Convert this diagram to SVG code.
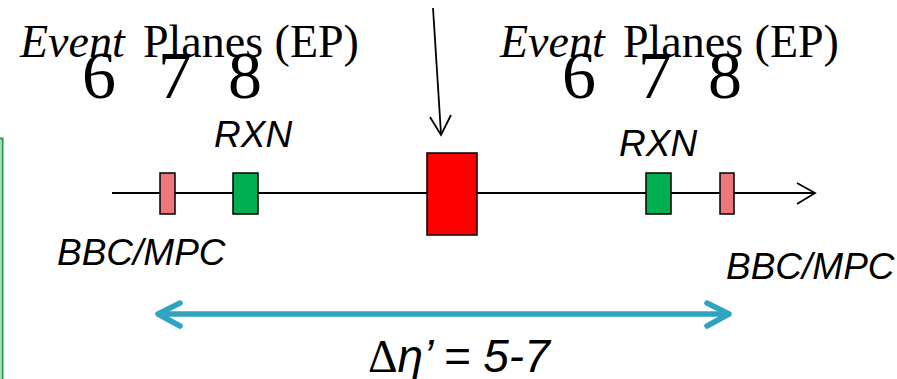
<svg xmlns="http://www.w3.org/2000/svg" width="897" height="379" viewBox="0 0 897 379">
<defs>
<style>
.ser{font-family:"Liberation Serif","Times New Roman",serif;fill:#000}
.ev{font-size:46px}
.dig{font-size:68px;text-anchor:middle}
.lab{font-family:"Liberation Sans",Arial,sans-serif;font-style:italic;font-size:37px;fill:#000}
.det{stroke:#000;stroke-width:1.5}
.ax{stroke:#000;stroke-width:1.8;fill:none}
.blue{stroke:#2fa4c1;stroke-width:5.5;fill:none;stroke-linecap:round;stroke-linejoin:round}
</style>
</defs>
<path d="M0 138.5 H2.5 V379" fill="none" stroke="#1d9a4e" stroke-width="2"/>
<line x1="0.8" y1="140" x2="0.8" y2="379" stroke="#a9dcbc" stroke-width="1.5"/>
<g id="title-left">
<text class="ser ev" y="57"><tspan x="20" font-style="italic">Event</tspan><tspan x="143">Planes (EP)</tspan></text>
<text class="ser dig" y="98"><tspan x="99">6</tspan><tspan x="175">7</tspan><tspan x="245">8</tspan></text>
</g>
<g id="title-right">
<text class="ser ev" y="57"><tspan x="500" font-style="italic">Event</tspan><tspan x="623">Planes (EP)</tspan></text>
<text class="ser dig" y="98"><tspan x="579">6</tspan><tspan x="655">7</tspan><tspan x="725">8</tspan></text>
</g>
<g id="connectors">
<line class="ax" x1="112" y1="193" x2="814" y2="193"/>
<polyline class="ax" points="797,183 815,193 797,204"/>
<line class="ax" x1="433" y1="8" x2="441" y2="134"/>
<polyline class="ax" points="430,117 441,135 451,115"/>
<line class="blue" x1="159" y1="314" x2="728" y2="314"/>
<polyline class="blue" points="180,303 158,314 180,326"/>
<polyline class="blue" points="707,303 729,314 707,326"/>
</g>
<g id="bbc-left"><rect class="det" x="160" y="173" width="15" height="41" fill="#ee777e"/></g>
<g id="rxn-left"><rect class="det" x="233" y="173" width="25" height="41" fill="#00b050"/></g>
<g id="vertex"><rect class="det" x="427" y="153" width="50" height="82" fill="#ff0000"/></g>
<g id="rxn-right"><rect class="det" x="646" y="173" width="25" height="41" fill="#00b050"/></g>
<g id="bbc-right"><rect class="det" x="720" y="173" width="14" height="41" fill="#ee777e"/></g>
<text class="lab" x="214" y="147">RXN</text>
<text class="lab" x="619" y="156">RXN</text>
<text class="lab" x="57" y="265">BBC/MPC</text>
<text class="lab" x="726" y="279">BBC/MPC</text>
<text x="368" y="372" font-size="46" fill="#000"><tspan font-family="'Liberation Serif','Times New Roman',serif">Δ</tspan><tspan font-family="'Liberation Sans',Arial,sans-serif" font-style="italic">η’ = 5-7</tspan></text>
</svg>
